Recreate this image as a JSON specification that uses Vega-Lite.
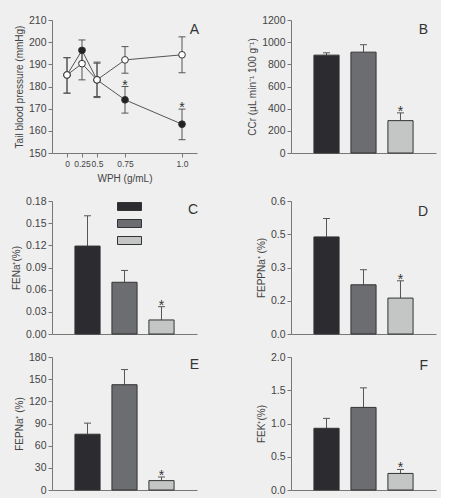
{
  "$schema": "https://vega.github.io/schema/vega-lite/v6.json",
  "background": "#efefef",
  "padding": {"left": 11, "top": 15, "right": 5, "bottom": 5},
  "columns": 2,
  "align": "each",
  "spacing": {"row": 12, "column": 48},
  "resolve": {"scale": {"color": "independent", "fill": "independent", "x": "independent", "y": "independent"}, "legend": {"color": "independent", "fill": "independent"}},
  "concat": [
    {
      "width": 145, "height": 133,
      "data": {"values": [
        {"series": "filled", "dose": 0, "mean": 185.2, "lo": 177, "hi": 193, "sig": false},
        {"series": "filled", "dose": 0.25, "mean": 196.3, "lo": 191, "hi": 201, "sig": false},
        {"series": "filled", "dose": 0.5, "mean": 183, "lo": 175.5, "hi": 190.5, "sig": false},
        {"series": "filled", "dose": 0.75, "mean": 174, "lo": 168, "hi": 180, "sig": true},
        {"series": "filled", "dose": 1.0, "mean": 163, "lo": 156, "hi": 169.8, "sig": true},
        {"series": "open", "dose": 0, "mean": 185.2, "lo": 177, "hi": 193, "sig": false},
        {"series": "open", "dose": 0.25, "mean": 190.3, "lo": 183, "hi": 197, "sig": false},
        {"series": "open", "dose": 0.5, "mean": 183, "lo": 175, "hi": 191, "sig": false},
        {"series": "open", "dose": 0.75, "mean": 192, "lo": 186, "hi": 198, "sig": false},
        {"series": "open", "dose": 1.0, "mean": 194.3, "lo": 186.2, "hi": 202.4, "sig": false}
      ]},
      "encoding": {
        "x": {"field": "dose", "type": "quantitative",
              "scale": {"domain": [-0.25, 0, 0.5, 0.75, 1, 1.125], "range": [0, 15, 45, 73, 130, 145], "nice": false, "zero": false},
              "axis": {"values": [0, 0.25, 0.5, 0.75, 1], "labelOverlap": false, "labelFontSize": 8.5, "labelExpr": "datum.value == 1 ? '1.0' : toString(datum.value)", "title": "WPH (g/mL)", "titlePadding": 6}},
        "y": {"field": "mean", "type": "quantitative",
              "scale": {"domain": [150, 210], "nice": false, "zero": false},
              "axis": {"values": [150, 160, 170, 180, 190, 200, 210], "title": "Tail blood pressure (mmHg)"}}
      },
      "layer": [
        {"mark": {"type": "line", "color": "#555", "strokeWidth": 1}, "encoding": {"detail": {"field": "series"}}},
        {"mark": {"type": "rule", "color": "#555", "strokeWidth": 1}, "encoding": {"y": {"field": "lo", "type": "quantitative"}, "y2": {"field": "hi"}}},
        {"mark": {"type": "tick", "orient": "horizontal", "color": "#555", "size": 7, "thickness": 1, "opacity": 1}, "encoding": {"y": {"field": "lo", "type": "quantitative"}}},
        {"mark": {"type": "tick", "orient": "horizontal", "color": "#555", "size": 7, "thickness": 1, "opacity": 1}, "encoding": {"y": {"field": "hi", "type": "quantitative"}}},
        {"mark": {"type": "point", "filled": true, "size": 45, "opacity": 1, "stroke": "#333", "strokeWidth": 1},
         "encoding": {"fill": {"field": "series", "type": "nominal", "scale": {"domain": ["filled", "open"], "range": ["#222222", "#ffffff"]}, "legend": null}}},
        {"transform": [{"filter": "datum.sig"}],
         "mark": {"type": "text", "text": "*", "fontSize": 14, "color": "#333", "baseline": "alphabetic", "dy": 3},
         "encoding": {"y": {"field": "hi", "type": "quantitative"}}},
        {"data": {"values": [{"panel": "A"}]},
         "mark": {"type": "text", "align": "right", "baseline": "alphabetic", "fontSize": 14, "color": "#333", "dx": 2, "dy": 14},
         "encoding": {"text": {"field": "panel"}, "x": {"value": "width"}, "y": {"value": 0}}}
      ]
    },
    {
      "width": 145, "height": 133,
      "data": {"values": [
        {"group": "Group 1", "value": 883, "err": 904, "sig": false},
        {"group": "Group 2", "value": 910, "err": 977, "sig": false},
        {"group": "Group 3", "value": 292, "err": 362, "sig": true}
      ]},
      "encoding": {
        "x": {"field": "group", "type": "nominal", "scale": {"paddingInner": 0.32, "paddingOuter": 0.62}, "axis": {"labels": false, "ticks": false, "title": null}},
        "y": {"field": "value", "type": "quantitative", "scale": {"domain": [0, 1200], "nice": false},
              "axis": {"values": [0, 200, 400, 600, 800, 1000, 1200], "format": "d", "title": "CCr (µL min⁻¹ 100 g⁻¹)"}}
      },
      "layer": [
        {"mark": {"type": "rule", "color": "#555"}, "encoding": {"y2": {"field": "err"}}},
        {"mark": {"type": "tick", "orient": "horizontal", "color": "#555", "size": 7, "thickness": 1, "opacity": 1}, "encoding": {"y": {"field": "err", "type": "quantitative"}}},
        {"mark": {"type": "bar", "stroke": "#333", "strokeWidth": 1},
         "encoding": {"color": {"field": "group", "type": "nominal", "scale": {"domain": ["Group 1", "Group 2", "Group 3"], "range": ["#2c2c30", "#6c6d70", "#c4c5c5"]}, "legend": null}}},
        {"transform": [{"filter": "datum.sig"}],
         "mark": {"type": "text", "text": "*", "fontSize": 14, "color": "#333", "baseline": "alphabetic", "dy": 3},
         "encoding": {"y": {"field": "err", "type": "quantitative"}}},
        {"data": {"values": [{"panel": "B"}]},
         "mark": {"type": "text", "align": "right", "baseline": "alphabetic", "fontSize": 14, "color": "#333", "dx": -8, "dy": 14},
         "encoding": {"text": {"field": "panel"}, "x": {"value": "width"}, "y": {"value": 0}}}
      ]
    },
    {
      "width": 145, "height": 133,
      "data": {"values": [
        {"group": "Group 1", "value": 0.119, "err": 0.160, "sig": false},
        {"group": "Group 2", "value": 0.070, "err": 0.086, "sig": false},
        {"group": "Group 3", "value": 0.019, "err": 0.037, "sig": true}
      ]},
      "encoding": {
        "x": {"field": "group", "type": "nominal", "scale": {"paddingInner": 0.32, "paddingOuter": 0.62}, "axis": {"labels": false, "ticks": false, "title": null, "minExtent": 2}},
        "y": {"field": "value", "type": "quantitative", "scale": {"domain": [0, 0.18], "nice": false},
              "axis": {"values": [0, 0.03, 0.06, 0.09, 0.12, 0.15, 0.18], "format": ".2f", "title": "FENa⁺(%)"}}
      },
      "layer": [
        {"mark": {"type": "rule", "color": "#555"}, "encoding": {"y2": {"field": "err"}}},
        {"mark": {"type": "tick", "orient": "horizontal", "color": "#555", "size": 7, "thickness": 1, "opacity": 1}, "encoding": {"y": {"field": "err", "type": "quantitative"}}},
        {"mark": {"type": "bar", "stroke": "#333", "strokeWidth": 1},
         "encoding": {"color": {"field": "group", "type": "nominal", "scale": {"domain": ["Group 1", "Group 2", "Group 3"], "range": ["#2c2c30", "#6c6d70", "#c4c5c5"]},
           "legend": {"orient": "none", "legendX": 73, "legendY": 1, "title": null, "symbolType": "M-3,-1H3V1H-3Z", "symbolSize": 64, "symbolStrokeColor": "#333", "symbolStrokeWidth": 1, "symbolOpacity": 1, "labelExpr": "''", "labelFontSize": 1, "rowPadding": 4, "padding": 0, "offset": 0}}}},
        {"transform": [{"filter": "datum.sig"}],
         "mark": {"type": "text", "text": "*", "fontSize": 14, "color": "#333", "baseline": "alphabetic", "dy": 3},
         "encoding": {"y": {"field": "err", "type": "quantitative"}}},
        {"data": {"values": [{"panel": "C"}]},
         "mark": {"type": "text", "align": "right", "baseline": "alphabetic", "fontSize": 14, "color": "#333", "dx": 1, "dy": 13},
         "encoding": {"text": {"field": "panel"}, "x": {"value": "width"}, "y": {"value": 0}}}
      ]
    },
    {
      "width": 145, "height": 133,
      "data": {"values": [
        {"group": "Group 1", "value": 0.438, "err": 0.521, "sig": false},
        {"group": "Group 2", "value": 0.222, "err": 0.290, "sig": false},
        {"group": "Group 3", "value": 0.162, "err": 0.240, "sig": true}
      ]},
      "encoding": {
        "x": {"field": "group", "type": "nominal", "scale": {"paddingInner": 0.32, "paddingOuter": 0.62}, "axis": {"labels": false, "ticks": false, "title": null, "minExtent": 2}},
        "y": {"field": "value", "type": "quantitative", "scale": {"domain": [0, 0.6], "nice": false},
              "axis": {"values": [0, 0.15, 0.3, 0.45, 0.6], "labelExpr": "format(datum.value + 0.0001, '.1f')", "title": "FEPPNa⁺ (%)"}}
      },
      "layer": [
        {"mark": {"type": "rule", "color": "#555"}, "encoding": {"y2": {"field": "err"}}},
        {"mark": {"type": "tick", "orient": "horizontal", "color": "#555", "size": 7, "thickness": 1, "opacity": 1}, "encoding": {"y": {"field": "err", "type": "quantitative"}}},
        {"mark": {"type": "bar", "stroke": "#333", "strokeWidth": 1},
         "encoding": {"color": {"field": "group", "type": "nominal", "scale": {"domain": ["Group 1", "Group 2", "Group 3"], "range": ["#2c2c30", "#6c6d70", "#c4c5c5"]}, "legend": null}}},
        {"transform": [{"filter": "datum.sig"}],
         "mark": {"type": "text", "text": "*", "fontSize": 14, "color": "#333", "baseline": "alphabetic", "dy": 3},
         "encoding": {"y": {"field": "err", "type": "quantitative"}}},
        {"data": {"values": [{"panel": "D"}]},
         "mark": {"type": "text", "align": "right", "baseline": "alphabetic", "fontSize": 14, "color": "#333", "dx": -8, "dy": 15},
         "encoding": {"text": {"field": "panel"}, "x": {"value": "width"}, "y": {"value": 0}}}
      ]
    },
    {
      "width": 145, "height": 133,
      "data": {"values": [
        {"group": "Group 1", "value": 75.5, "err": 90.5, "sig": false},
        {"group": "Group 2", "value": 142.5, "err": 163, "sig": false},
        {"group": "Group 3", "value": 12.7, "err": 17.6, "sig": true}
      ]},
      "encoding": {
        "x": {"field": "group", "type": "nominal", "scale": {"paddingInner": 0.32, "paddingOuter": 0.62}, "axis": {"labels": false, "ticks": false, "title": null}},
        "y": {"field": "value", "type": "quantitative", "scale": {"domain": [0, 180], "nice": false},
              "axis": {"values": [0, 30, 60, 90, 120, 150, 180], "title": "FEPNa⁺ (%)"}}
      },
      "layer": [
        {"mark": {"type": "rule", "color": "#555"}, "encoding": {"y2": {"field": "err"}}},
        {"mark": {"type": "tick", "orient": "horizontal", "color": "#555", "size": 7, "thickness": 1, "opacity": 1}, "encoding": {"y": {"field": "err", "type": "quantitative"}}},
        {"mark": {"type": "bar", "stroke": "#333", "strokeWidth": 1},
         "encoding": {"color": {"field": "group", "type": "nominal", "scale": {"domain": ["Group 1", "Group 2", "Group 3"], "range": ["#2c2c30", "#6c6d70", "#c4c5c5"]}, "legend": null}}},
        {"transform": [{"filter": "datum.sig"}],
         "mark": {"type": "text", "text": "*", "fontSize": 14, "color": "#333", "baseline": "alphabetic", "dy": 3},
         "encoding": {"y": {"field": "err", "type": "quantitative"}}},
        {"data": {"values": [{"panel": "E"}]},
         "mark": {"type": "text", "align": "right", "baseline": "alphabetic", "fontSize": 14, "color": "#333", "dx": 2, "dy": 12},
         "encoding": {"text": {"field": "panel"}, "x": {"value": "width"}, "y": {"value": 0}}}
      ]
    },
    {
      "width": 145, "height": 133,
      "data": {"values": [
        {"group": "Group 1", "value": 0.928, "err": 1.077, "sig": false},
        {"group": "Group 2", "value": 1.242, "err": 1.536, "sig": false},
        {"group": "Group 3", "value": 0.249, "err": 0.309, "sig": true}
      ]},
      "encoding": {
        "x": {"field": "group", "type": "nominal", "scale": {"paddingInner": 0.32, "paddingOuter": 0.62}, "axis": {"labels": false, "ticks": false, "title": null}},
        "y": {"field": "value", "type": "quantitative", "scale": {"domain": [0, 2], "nice": false},
              "axis": {"values": [0, 0.5, 1, 1.5, 2], "format": ".1f", "title": "FEK⁺(%)"}}
      },
      "layer": [
        {"mark": {"type": "rule", "color": "#555"}, "encoding": {"y2": {"field": "err"}}},
        {"mark": {"type": "tick", "orient": "horizontal", "color": "#555", "size": 7, "thickness": 1, "opacity": 1}, "encoding": {"y": {"field": "err", "type": "quantitative"}}},
        {"mark": {"type": "bar", "stroke": "#333", "strokeWidth": 1},
         "encoding": {"color": {"field": "group", "type": "nominal", "scale": {"domain": ["Group 1", "Group 2", "Group 3"], "range": ["#2c2c30", "#6c6d70", "#c4c5c5"]}, "legend": null}}},
        {"transform": [{"filter": "datum.sig"}],
         "mark": {"type": "text", "text": "*", "fontSize": 14, "color": "#333", "baseline": "alphabetic", "dy": 3},
         "encoding": {"y": {"field": "err", "type": "quantitative"}}},
        {"data": {"values": [{"panel": "F"}]},
         "mark": {"type": "text", "align": "right", "baseline": "alphabetic", "fontSize": 14, "color": "#333", "dx": -8, "dy": 13},
         "encoding": {"text": {"field": "panel"}, "x": {"value": "width"}, "y": {"value": 0}}}
      ]
    }
  ],
  "config": {
    "font": "Liberation Sans",
    "view": {"stroke": null},
    "axis": {"labelFont": "Liberation Sans", "titleFont": "Liberation Sans", "labelFontSize": 10.5, "titleFontSize": 10, "titleFontWeight": "normal",
             "labelColor": "#444", "titleColor": "#444", "domainColor": "#777", "tickColor": "#777", "grid": false, "tickSize": 4, "labelPadding": 2}
  }
}
